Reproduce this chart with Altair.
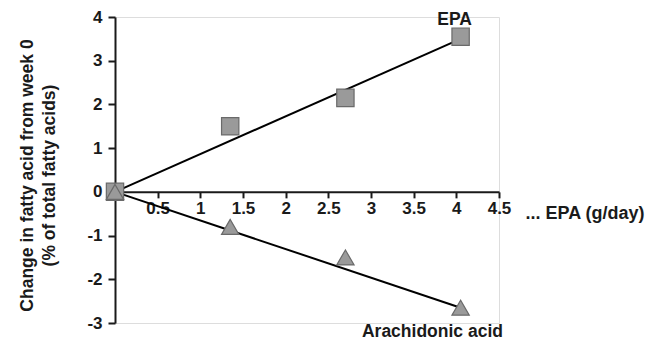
import altair as alt
import pandas as pd

# Observed points
dose = [0.0, 1.35, 2.7, 4.05]
epa_change = [0.0, 1.5, 2.15, 3.55]
aa_change = [0.0, -0.8, -1.5, -2.65]

# Fitted line endpoints
fit_x = [0.0, 4.05]
epa_fit = [0.0, 3.5]
aa_fit = [0.0, -2.65]

x_ticks = [0.5, 1, 1.5, 2, 2.5, 3, 3.5, 4, 4.5]
y_ticks = [-3, -2, -1, 0, 1, 2, 3, 4]

# Series annotation labels
ann_text = ["EPA", "Arachidonic acid"]
ann_x = [3.98, 3.72]
ann_y = [3.82, -3.2]

W, H = 384, 306
FONT = "Liberation Sans"
TXT = "#1a1a1a"

pts = pd.DataFrame(
    {"x": dose * 2,
     "y": epa_change + aa_change,
     "series": ["EPA"] * 4 + ["Arachidonic acid"] * 4}
)
lines = pd.DataFrame(
    {"x": fit_x * 2,
     "y": epa_fit + aa_fit,
     "series": ["EPA"] * 2 + ["Arachidonic acid"] * 2}
)
labels = pd.DataFrame({"x": ann_x, "y": ann_y, "text": ann_text})

x_off = -(H - H * 4 / 7)

xs = alt.Scale(domain=[0, 4.5], nice=False, zero=False)
ys = alt.Scale(domain=[-3, 4], nice=False, zero=False)

lab_expr = "datum.value < 0 ? '-' + format(-datum.value, '~g') : format(datum.value, '~g')"

xax = alt.Axis(
    values=x_ticks, offset=x_off, domainColor=TXT, domainWidth=2, tickColor=TXT,
    tickWidth=2, tickSize=6, labelFont=FONT, labelFontSize=17, labelFontWeight="bold",
    labelColor=TXT, labelPadding=3, grid=False, title="... EPA (g/day)",
    titleFont=FONT, titleFontSize=18, titleFontWeight="bold", titleColor=TXT,
    titleAngle=0, titleAlign="left", titleBaseline="middle", titleX=W + 26, titleY=22,
    labelFlush=False, labelOverlap=False, labelExpr=lab_expr,
)
yax = alt.Axis(
    values=y_ticks, domainColor=TXT, domainWidth=2, tickColor=TXT, tickWidth=2,
    tickSize=7, labelFont=FONT, labelFontSize=17, labelFontWeight="bold",
    labelColor=TXT, labelPadding=6, grid=False, labelExpr=lab_expr,
    title=["Change in fatty acid from week 0", "(% of total fatty acids)"],
    titleFont=FONT, titleFontSize=17.5, titleFontWeight="bold", titleColor=TXT,
    titleAngle=-90, titleAlign="center", titleBaseline="middle",
    titleX=-88, titleY=158, titleLineHeight=22, labelFlush=False,
)

line_layer = alt.Chart(lines).mark_line(color="black", strokeWidth=2).encode(
    x=alt.X("x:Q", scale=xs, axis=xax),
    y=alt.Y("y:Q", scale=ys, axis=yax),
    detail="series:N",
)

pt_layer = alt.Chart(pts).mark_point(
    filled=True, fill="#9a9a9a", stroke="#6a6a6a", strokeWidth=1.2, opacity=1, size=300
).encode(
    x=alt.X("x:Q", scale=xs),
    y=alt.Y("y:Q", scale=ys),
    shape=alt.Shape(
        "series:N",
        scale=alt.Scale(domain=["EPA", "Arachidonic acid"], range=["square", "triangle-up"]),
        legend=None,
    ),
)

lab_epa = alt.Chart(labels.iloc[[0]]).mark_text(
    font=FONT, fontSize=17.5, fontWeight="bold", color=TXT, baseline="alphabetic"
).encode(x=alt.X("x:Q", scale=xs), y=alt.Y("y:Q", scale=ys), text="text:N")

lab_aa = alt.Chart(labels.iloc[[1]]).mark_text(
    font=FONT, fontSize=17.5, fontWeight="bold", color=TXT, baseline="middle"
).encode(x=alt.X("x:Q", scale=xs), y=alt.Y("y:Q", scale=ys), text="text:N")

chart = (
    alt.layer(line_layer, pt_layer, lab_epa, lab_aa)
    .properties(
        width=W, height=H,
        autosize=alt.AutoSizeParams(type="none"),
        padding={"left": 107, "top": 9, "right": 147, "bottom": 18},
    )
    .configure_view(stroke=None)
    .configure(background="white")
)

chart.save("out.html", embed_options={"renderer": "svg", "actions": False})
